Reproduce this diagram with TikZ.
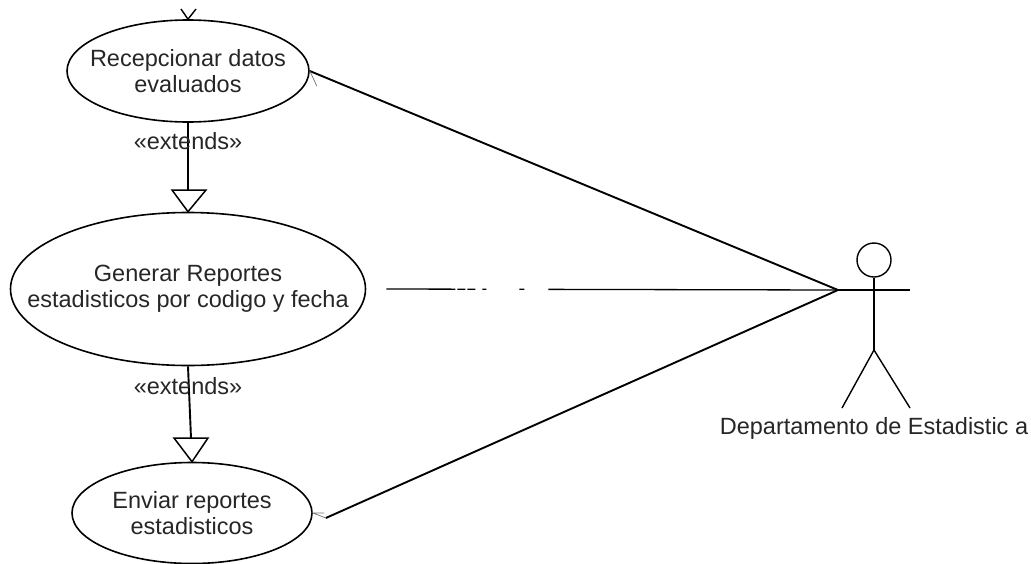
\documentclass[tikz,border=0pt]{standalone}
\usepackage{fontspec}
\setmainfont{Liberation Sans}
\usetikzlibrary{shapes.geometric}
\newcommand\ctrline[1]{\makebox[0pt][c]{#1}}
\tikzset{
  x=1pt,y=-1pt,
  usecase/.style={draw=black,line width=1.6pt,ellipse,inner sep=0pt,align=center,font=\fontsize{23.5}{26}\selectfont,text=black!85},
  assoc/.style={draw=black,line width=1.9pt},
  thinline/.style={draw=black,line width=1.4pt},
  faint/.style={draw=black!55,line width=0.7pt},
  hollow/.style={draw=black,line width=1.5pt,fill=white,line join=miter},
  stereo/.style={font=\fontsize{23.5}{26}\selectfont,text=black!85,inner sep=0pt},
  actorlabel/.style={font=\fontsize{23.5}{26}\selectfont,text=black!85,inner sep=0pt},
}
\begin{document}
\begin{tikzpicture}
\useasboundingbox (0,0) rectangle (1031,563);
\node[usecase,minimum width=242pt,minimum height=102pt] (e1) at (188,71) {\ctrline{Recepcionar datos}\\\ctrline{evaluados}};
\node[usecase,minimum width=355pt,minimum height=153pt] (e2) at (188,289) {\ctrline{Generar Reportes}\\\ctrline{estadisticos por codigo y fecha}};
\node[usecase,minimum width=240pt,minimum height=101pt] (e3) at (192,513) {\ctrline{Enviar reportes}\\\ctrline{estadisticos}};
% actor
\node[draw=black,line width=1.4pt,circle,minimum size=34pt,inner sep=0pt] (head) at (874,260) {};
\coordinate (hip) at (874,350);
\coordinate (handl) at (838,290);
\coordinate (handr) at (910,290);
\coordinate (footl) at (842,408);
\coordinate (footr) at (910,408);
\draw[thinline,line width=1.9pt] (head.south) -- (hip);
\draw[thinline] (handl) -- (handr);
\draw[thinline] (footl) -- (hip) -- (footr);
\node[actorlabel] (actor) at (874,428) {Departamento de Estadistic a};
% associations
\draw[assoc] (e1.east) -- (handl);
\draw[assoc,line width=1.3pt,dash pattern=on 69pt off 2pt on 8pt off 2pt on 8pt off 7pt on 4pt off 33pt on 5pt off 24pt on 400pt] ([xshift=20pt]e2.east) -- (handl);
\draw[assoc] ([xshift=13pt,yshift=-5pt]e3.east) -- (handl);
% faint open arrowheads at the use-case ends
\draw[faint] (e1.east) -- ++(7,15);
\draw[faint] ([xshift=13pt,yshift=-5pt]e3.east) -- (e3.east) -- ++(11,0);
% small open arrow above first use case
\coordinate (inl) at (181,9);
\coordinate (inr) at (196,9);
\draw[thinline] (inl) -- (e1.north) -- (inr);
% extends
\coordinate (b1) at (188,190);
\coordinate (b1l) at (172,190);
\coordinate (b1r) at (206,190);
\draw[assoc] (e1.south) -- (b1);
\draw[hollow] (b1l) -- (b1r) -- (e2.north) -- cycle;
\coordinate (b2) at (191,438);
\coordinate (b2l) at (174,438);
\coordinate (b2r) at (208,438);
\draw[assoc] (e2.south) -- (b2);
\draw[hollow] (b2l) -- (b2r) -- (e3.north) -- cycle;
\node[stereo] (s1) at (188,141) {«extends»};
\node[stereo] (s2) at (188,386) {«extends»};
\end{tikzpicture}
\end{document}
